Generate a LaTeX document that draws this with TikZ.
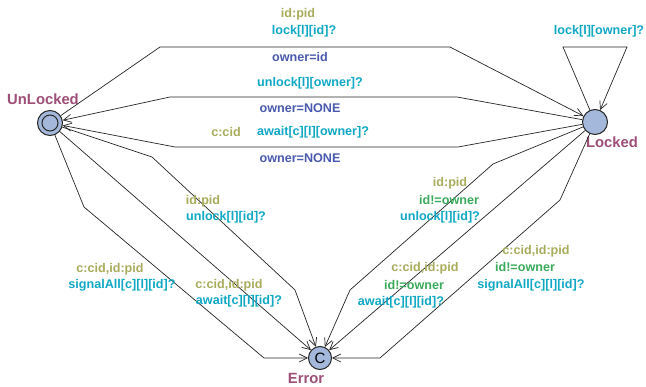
\documentclass[tikz,border=0pt]{standalone}
\usepackage{fontspec}
\setmainfont{Liberation Sans}
\usetikzlibrary{arrows.meta}

\definecolor{locname}{HTML}{9E4F78}
\definecolor{selcol}{HTML}{A8AC5C}
\definecolor{synccol}{HTML}{10A8C4}
\definecolor{updcol}{HTML}{4A5AAE}
\definecolor{guardcol}{HTML}{3CAA5C}
\definecolor{locfill}{HTML}{A3B8DA}

\tikzset{
  loc/.style={circle, draw=black!85, line width=1pt, fill=locfill,
    minimum size=25pt, inner sep=0pt},
  edge/.style={draw=black!85, line width=0.7pt,
    -{Straight Barb[length=8pt,width=8pt,line width=0.7pt]}},
  lbl/.style={font=\fontsize{12.6}{14}\selectfont\bfseries, inner sep=0pt},
  lname/.style={font=\fontsize{14.8}{16}\selectfont\bfseries, inner sep=0pt, text=locname},
  sel/.style={lbl, text=selcol},
  sync/.style={lbl, text=synccol},
  upd/.style={lbl, text=updcol},
  grd/.style={lbl, text=guardcol}
}

\begin{document}
\begin{tikzpicture}[x=1pt,y=-1pt]
\useasboundingbox[fill=white] (0,0) rectangle (646,387);

% locations
\node[loc] (U) at (50,123) {};
\node[circle, draw=black!85, line width=1pt, minimum size=16pt, inner sep=0pt] (Uin) at (U.center) {};
\node[loc] (L) at (595,122) {};
\node[loc, minimum size=23pt, font=\fontsize{15}{16}\selectfont] (E) at (320,358) {C};

\node[lname] (Un) at (43,99) {UnLocked};
\node[lname] (Ln) at (612,142) {Locked};
\node[lname] (En) at (306,378) {Error};

% bend points
\coordinate (a1) at (160,47);  \coordinate (a2) at (450,47);
\coordinate (b1) at (457,97);  \coordinate (b2) at (170,97);
\coordinate (c1) at (458,147); \coordinate (c2) at (175,147);
\coordinate (d1) at (563,47);  \coordinate (d2) at (627,47);
\coordinate (e1) at (152,157); \coordinate (e2) at (295,290);
\coordinate (g1) at (84,207);  \coordinate (g2) at (264,358);
\coordinate (h1) at (493,164); \coordinate (h2) at (350,290);
\coordinate (k1) at (560,200); \coordinate (k2) at (380,358);

% edges
\draw[edge] (U) -- (a1) -- (a2) -- (L);
\draw[edge] (L) -- (b1) -- (b2) -- (U);
\draw[edge] (L) -- (c1) -- (c2) -- (U);
\draw[edge] (L) -- (d1) -- (d2) -- (L);
\draw[edge] (U) -- (e1) -- (e2) -- (E);
\draw[edge] (U) -- (E);
\draw[edge] (U) -- (g1) -- (g2) -- (E);
\draw[edge] (L) -- (h1) -- (h2) -- (E);
\draw[edge] (L) -- (E);
\draw[edge] (L) -- (k1) -- (k2) -- (E);

% labels: lock
\node[sel]  (t1) at (298,14) {id:pid};
\node[sync] (t2) at (304,31) {lock[l][id]?};
\node[upd]  (t3) at (300,57) {owner=id};
% unlock by owner
\node[sync] (t4) at (310,83) {unlock[l][owner]?};
\node[upd]  (t5) at (300,108) {owner=NONE};
% await by owner
\node[sel]  (t6) at (226,132) {c:cid};
\node[sync] (t7) at (313,132) {await[c][l][owner]?};
\node[upd]  (t8) at (300,158) {owner=NONE};
% self loop
\node[sync] (t9) at (599,31) {lock[l][owner]?};
% unlocked to error
\node[sel]  (t10) at (203,201) {id:pid};
\node[sync] (t11) at (226,217) {unlock[l][id]?};
\node[sel]  (t12) at (110,269) {c:cid,id:pid};
\node[sync] (t13) at (122,285) {signalAll[c][l][id]?};
\node[sel]  (t14) at (229,285) {c:cid,id:pid};
\node[sync] (t15) at (239,301) {await[c][l][id]?};
% locked to error
\node[sel]  (t16) at (450,183) {id:pid};
\node[grd]  (t17) at (449,200) {id!=owner};
\node[sync] (t18) at (440,217) {unlock[l][id]?};
\node[sel]  (t19) at (425,268) {c:cid,id:pid};
\node[grd]  (t20) at (414,285) {id!=owner};
\node[sync] (t21) at (401,302) {await[c][l][id]?};
\node[sel]  (t22) at (536,251) {c:cid,id:pid};
\node[grd]  (t23) at (525,267) {id!=owner};
\node[sync] (t24) at (531,285) {signalAll[c][l][id]?};
\end{tikzpicture}
\end{document}
